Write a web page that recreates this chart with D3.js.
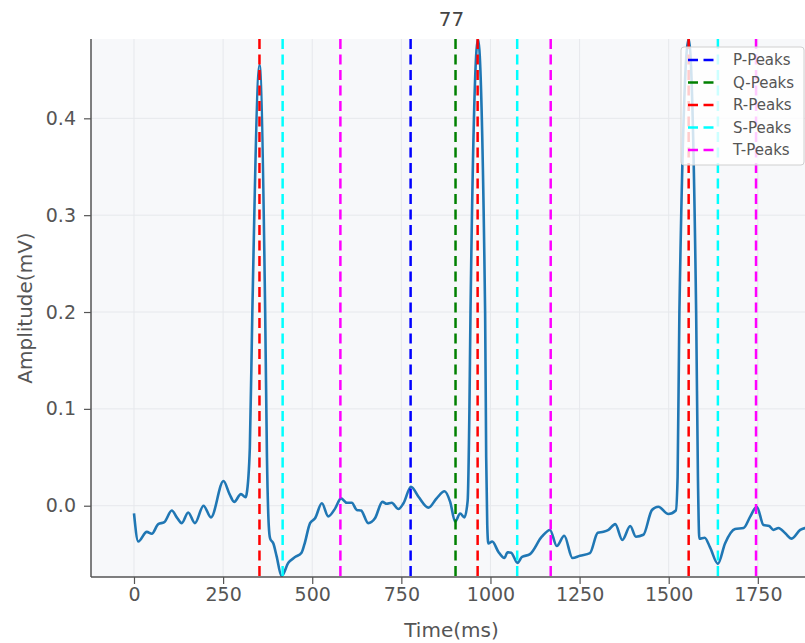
<!DOCTYPE html>
<html>
<head>
<meta charset="utf-8">
<script src="https://cdn.jsdelivr.net/npm/d3@7"></script>
<style>
  body { margin: 0; background: #fff; }
  svg { font-family: "DejaVu Sans", sans-serif; }
</style>
</head>
<body>
<script>
// ECG signal (time in ms, amplitude in mV)
const timeMs = [0, 12, 36, 50, 68, 85, 106, 120, 134, 152, 171, 195, 216, 251, 268, 281, 300, 313, 316, 325, 332, 352, 368, 373, 378, 382, 391, 400, 414, 433, 452, 470, 478, 494, 508, 527, 545, 564, 581, 597, 611, 625, 637, 657, 676, 697, 709, 723, 742, 756, 777, 798, 826, 849, 871, 887, 901, 915, 927, 936, 941, 944, 965, 985, 988, 991, 994, 1005, 1022, 1039, 1048, 1058, 1076, 1088, 1111, 1144, 1167, 1186, 1207, 1230, 1251, 1279, 1301, 1317, 1331, 1350, 1370, 1392, 1408, 1429, 1453, 1471, 1499, 1520, 1525, 1530, 1556, 1577, 1582, 1586, 1601, 1616, 1638, 1658, 1686, 1710, 1729, 1747, 1766, 1782, 1794, 1808, 1827, 1845, 1869, 1883, 1900];
const amplitude = [-0.008, -0.037, -0.027, -0.029, -0.019, -0.017, -0.005, -0.012, -0.018, -0.007, -0.018, 0.000, -0.012, 0.0255, 0.012, 0.004, 0.012, 0.0087, 0.012, 0.06, 0.2, 0.455, 0.2, 0.05, -0.02, -0.034, -0.039, -0.052, -0.0726, -0.059, -0.053, -0.0485, -0.04, -0.018, -0.013, 0.0025, -0.011, -0.003, 0.0076, 0.003, 0.003, -0.0044, -0.005, -0.018, -0.013, 0.004, 0.002, 0.003, -0.0034, 0.0025, 0.0196, 0.0093, -0.002, 0.0076, 0.015, 0.004, -0.0165, -0.008, -0.012, 0.005, 0.1, 0.2, 0.482, 0.2, 0.05, -0.02, -0.039, -0.037, -0.0475, -0.054, -0.048, -0.0485, -0.059, -0.053, -0.050, -0.032, -0.025, -0.0416, -0.031, -0.054, -0.0516, -0.049, -0.028, -0.027, -0.025, -0.019, -0.0354, -0.021, -0.032, -0.030, -0.0044, -0.001, -0.0086, -0.005, 0.03, 0.2, 0.482, 0.2, 0.03, -0.034, -0.033, -0.043, -0.060, -0.039, -0.024, -0.023, -0.011, -0.001, -0.020, -0.021, -0.025, -0.023, -0.0285, -0.034, -0.025, -0.023, -0.022];

// detected peaks (ms)
const pPeaks = [776];
const qPeaks = [902];
const rPeaks = [352, 964, 1556];
const sPeaks = [417, 1075, 1638];
const tPeaks = [579, 1169, 1745];

const peakNames = ["P-Peaks", "Q-Peaks", "R-Peaks", "S-Peaks", "T-Peaks"];
const peakColors = ["#0000ff", "#008000", "#ff0000", "#00ffff", "#ff00ff"];
const peakLists = [pPeaks, qPeaks, rPeaks, sPeaks, tPeaks];

const xTicks = [0, 250, 500, 750, 1000, 1250, 1500, 1750];
const yTicks = [0.0, 0.1, 0.2, 0.3, 0.4];

const plot = { left: 91, right: 812, top: 39, bottom: 577 };

const svg = d3.select("body").append("svg")
  .attr("width", 805)
  .attr("height", 643);

const x = d3.scaleLinear().domain([-120.6, 1902]).range([plot.left, plot.right]);
const y = d3.scaleLinear().domain([-0.0736, 0.4819]).range([plot.bottom, plot.top]);

// background
svg.append("rect")
  .attr("x", plot.left).attr("y", plot.top)
  .attr("width", plot.right - plot.left).attr("height", plot.bottom - plot.top)
  .attr("fill", "#f7f8fa");

svg.append("clipPath").attr("id", "clip")
  .append("rect")
  .attr("x", plot.left).attr("y", plot.top)
  .attr("width", plot.right - plot.left).attr("height", plot.bottom - plot.top);

// grid
const grid = svg.append("g").attr("stroke", "#e6e8ec").attr("stroke-width", 1);
grid.selectAll(".gx").data(xTicks).enter().append("line")
  .attr("x1", d => x(d)).attr("x2", d => x(d))
  .attr("y1", plot.top).attr("y2", plot.bottom);
grid.selectAll(".gy").data(yTicks).enter().append("line")
  .attr("x1", plot.left).attr("x2", plot.right)
  .attr("y1", d => y(d)).attr("y2", d => y(d));

const inner = svg.append("g").attr("clip-path", "url(#clip)");

// signal
const signal = timeMs.map((t, i) => [t, amplitude[i]]);
inner.append("path")
  .datum(signal)
  .attr("fill", "none")
  .attr("stroke", "#2077b4")
  .attr("stroke-width", 2.6)
  .attr("stroke-linejoin", "round")
  .attr("d", d3.line()
    .x(d => x(d[0]))
    .y(d => y(d[1]))
    .curve(d3.curveMonotoneX));

// peak lines
peakLists.forEach((list, k) => {
  inner.selectAll(".pk" + k).data(list).enter().append("line")
    .attr("x1", d => x(d)).attr("x2", d => x(d))
    .attr("y1", plot.top).attr("y2", plot.bottom)
    .attr("stroke", peakColors[k])
    .attr("stroke-width", 2.5)
    .attr("stroke-dasharray", "10,5.5");
});

// axes
const xAxis = svg.append("g")
  .attr("transform", `translate(0,${plot.bottom})`)
  .call(d3.axisBottom(x).tickValues(xTicks).tickFormat(d3.format("d")).tickSize(7).tickPadding(4).tickSizeOuter(0));
const yAxis = svg.append("g")
  .attr("transform", `translate(${plot.left},0)`)
  .call(d3.axisLeft(y).tickValues(yTicks).tickFormat(d3.format(".1f")).tickSize(7).tickPadding(8).tickSizeOuter(0));

[xAxis, yAxis].forEach(a => {
  a.select(".domain").attr("stroke", "#555").attr("stroke-width", 1.5);
  a.selectAll(".tick line").attr("stroke", "#555").attr("stroke-width", 1.2);
  a.selectAll(".tick text")
    .attr("fill", "#555")
    .attr("font-size", 19)
    .attr("font-family", "DejaVu Sans");
});
// x domain line should stop at the plot range
xAxis.select(".domain").attr("d", `M${plot.left},0H${plot.right}`);
yAxis.select(".domain").attr("d", `M0,${plot.bottom}V${plot.top}`);

// labels
svg.append("text")
  .attr("x", (plot.left + plot.right) / 2).attr("y", 26)
  .attr("text-anchor", "middle")
  .attr("font-size", 20).attr("fill", "#444")
  .text("77");

svg.append("text")
  .attr("x", (plot.left + plot.right) / 2).attr("y", 637)
  .attr("text-anchor", "middle")
  .attr("font-size", 20).attr("fill", "#555")
  .text("Time(ms)");

svg.append("text")
  .attr("transform", `translate(32,${(plot.top + plot.bottom) / 2}) rotate(-90)`)
  .attr("text-anchor", "middle")
  .attr("font-size", 20).attr("fill", "#555")
  .text("Amplitude(mV)");

// legend
const legend = svg.append("g");
legend.append("rect")
  .attr("x", 681).attr("y", 47)
  .attr("width", 123).attr("height", 118)
  .attr("rx", 3)
  .attr("fill", "#ffffff").attr("fill-opacity", 0.8)
  .attr("stroke", "#d0d0d0").attr("stroke-width", 1);

peakNames.forEach((name, k) => {
  const ly = 60 + k * 22.5;
  legend.append("line")
    .attr("x1", 688).attr("x2", 716)
    .attr("y1", ly).attr("y2", ly)
    .attr("stroke", peakColors[k])
    .attr("stroke-width", 2.5)
    .attr("stroke-dasharray", "10,5.5");
  legend.append("text")
    .attr("x", 733).attr("y", ly + 5)
    .attr("font-size", 15).attr("fill", "#555")
    .text(name);
});
</script>
</body>
</html>
